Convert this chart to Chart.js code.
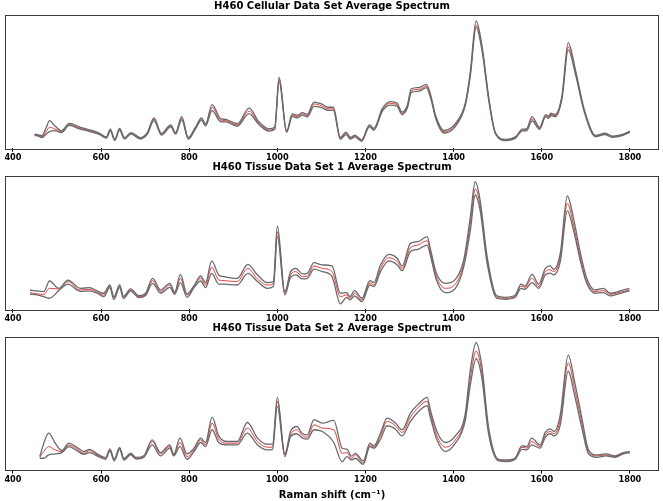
<!DOCTYPE html>
<html>
<head>
<meta charset="utf-8">
<script src="https://cdn.jsdelivr.net/npm/chart.js@4.4.0/dist/chart.umd.min.js"></script>
<style>
  html, body { margin: 0; padding: 0; background: #fff; }
  body { width: 663px; height: 501px; position: relative; overflow: hidden; }
  canvas { position: absolute; left: 0; }
</style>
</head>
<body>
<canvas id="c1" width="663" height="161" style="top:0px"></canvas>
<canvas id="c2" width="663" height="161" style="top:161px"></canvas>
<canvas id="c3" width="663" height="179" style="top:322px"></canvas>
<script>
// tick labels on the Raman shift axis
const xTicks = [400, 600, 800, 1000, 1200, 1400, 1600, 1800];

// H460 cellular
const shift1 = [449, 458, 466, 475, 483, 495, 510, 528, 553, 574, 597, 612, 621, 631, 642, 653, 668, 689, 705, 720,
  737, 758, 769, 783, 798, 814, 828, 837, 852, 871, 883, 909, 936, 958, 981, 994, 1004, 1021, 1034, 1045,
  1057, 1068, 1083, 1100, 1115, 1127, 1143, 1156, 1166, 1176, 1191, 1209, 1219, 1238, 1257, 1272, 1283, 1295, 1304, 1321,
  1338, 1348, 1359, 1378, 1404, 1427, 1438, 1451, 1465, 1480, 1495, 1518, 1541, 1556, 1565, 1578, 1595, 1609, 1615, 1621,
  1630, 1646, 1660, 1677, 1696, 1722, 1743, 1760, 1783, 1800];
const upper1 = [6.6, 6.0, 5.5, 11.5, 17.8, 13.5, 9.4, 15.6, 12.3, 10.2, 7.4, 4.3, 10.8, 2.4, 11.3, 3.8, 7.9, 3.8, 8.0, 20.0,
  7.2, 14.2, 8.0, 21.0, 3.9, 12.3, 20.0, 15.0, 31.0, 19.5, 18.8, 15.2, 28.0, 16.8, 11.0, 12.3, 53.5, 9.3, 23.4, 22.2,
  24.3, 23.0, 33.0, 31.5, 28.8, 28.8, 4.0, 8.3, 3.9, 5.8, 1.9, 14.2, 11.4, 27.6, 33.5, 32.0, 24.8, 30.5, 44.0, 45.0,
  47.6, 38.8, 22.2, 9.8, 15.3, 33.0, 58.5, 99.8, 78.0, 36.0, 7.8, 2.4, 4.6, 10.8, 10.9, 21.0, 12.3, 22.8, 21.4, 24.0,
  22.8, 38.8, 82.0, 58.5, 27.5, 5.7, 7.4, 5.1, 6.5, 9.2];
const mean1 = [6.0, 5.5, 4.6, 8.5, 12.3, 11.0, 8.7, 14.7, 11.5, 9.5, 6.8, 3.8, 10.1, 1.9, 10.6, 3.2, 7.3, 3.2, 7.3, 18.9,
  6.5, 13.4, 7.3, 19.7, 3.2, 11.5, 19.1, 14.2, 28.7, 18.3, 17.8, 14.2, 25.7, 15.6, 10.1, 11.5, 51.8, 8.7, 22.4, 21.1,
  23.3, 21.9, 31.5, 30.0, 27.5, 27.5, 3.2, 7.3, 3.2, 5.1, 1.3, 13.4, 10.6, 26.5, 32.0, 30.7, 23.8, 29.3, 42.5, 43.5,
  46.3, 37.5, 21.1, 8.7, 14.2, 32.0, 56.7, 96.5, 75.9, 34.8, 7.3, 1.9, 4.1, 10.1, 10.1, 19.1, 11.5, 21.9, 20.5, 23.0,
  21.9, 37.5, 78.6, 56.7, 26.5, 5.1, 6.8, 4.6, 6.0, 8.7];
const lower1 = [5.5, 5.0, 3.8, 6.5, 8.7, 9.5, 8.0, 13.8, 10.7, 8.8, 6.2, 3.3, 9.4, 1.4, 9.9, 2.6, 6.7, 2.6, 6.6, 17.8,
  5.8, 12.6, 6.6, 18.4, 2.5, 10.7, 18.2, 13.4, 26.0, 17.0, 16.8, 13.2, 23.5, 14.5, 9.2, 10.7, 50.0, 8.1, 21.4, 20.0,
  22.3, 20.8, 29.5, 28.5, 26.2, 26.2, 2.4, 6.3, 2.5, 4.4, 0.7, 12.6, 9.8, 25.4, 30.5, 29.4, 22.8, 28.1, 41.0, 42.0,
  45.0, 36.2, 20.0, 7.6, 13.1, 31.0, 55.0, 94.5, 74.0, 33.6, 6.8, 1.4, 3.6, 9.4, 9.3, 17.5, 10.7, 21.0, 19.6, 22.0,
  21.0, 36.2, 76.0, 55.0, 25.5, 4.5, 6.2, 4.1, 5.5, 8.2];

// H460 tissue set 1
const shift2 = [439, 455, 470, 483, 504, 525, 553, 574, 591, 606, 620, 629, 642, 651, 667, 686, 701, 717, 735, 756,
  767, 780, 795, 811, 826, 837, 851, 867, 879, 909, 933, 955, 977, 991, 1000, 1017, 1030, 1042, 1057, 1068,
  1083, 1102, 1124, 1143, 1157, 1165, 1175, 1192, 1210, 1219, 1234, 1253, 1272, 1283, 1302, 1319, 1340, 1347, 1361, 1381,
  1404, 1423, 1438, 1449, 1460, 1476, 1498, 1517, 1540, 1553, 1562, 1578, 1593, 1608, 1619, 1627, 1642, 1658, 1672, 1687,
  1702, 1721, 1740, 1755, 1778, 1799];
const upper2 = [10.9, 10.1, 9.5, 18.3, 12.3, 19.1, 12.3, 12.8, 10.1, 8.2, 15.0, 5.2, 15.0, 5.8, 11.8, 6.2, 8.2, 20.5, 10.9, 16.4,
  9.0, 23.8, 7.6, 14.5, 22.4, 17.0, 34.8, 23.3, 21.9, 20.5, 32.0, 23.3, 17.0, 17.8, 63.6, 9.5, 26.0, 28.7, 24.1, 24.6,
  33.4, 31.5, 30.7, 8.2, 8.7, 5.5, 10.4, 4.1, 18.6, 17.0, 31.5, 40.3, 37.0, 30.7, 49.3, 50.7, 54.8, 45.2, 24.6, 16.4,
  19.7, 35.6, 71.3, 100, 85.0, 38.3, 6.0, 4.9, 6.8, 15.8, 14.2, 23.8, 15.8, 28.7, 30.7, 27.9, 41.1, 88.3, 69.9, 42.5,
  20.5, 10.9, 12.3, 8.2, 10.1, 12.3];
const mean2 = [8.7, 7.6, 7.3, 12.3, 11.7, 17.8, 10.9, 11.4, 9.0, 6.8, 14.2, 4.1, 14.2, 4.9, 10.9, 5.4, 7.3, 18.6, 9.5, 15.0,
  8.2, 20.5, 6.8, 13.7, 20.5, 15.0, 29.6, 19.1, 18.6, 17.8, 28.7, 20.0, 15.0, 16.0, 58.9, 8.2, 23.3, 26.0, 21.9, 22.4,
  30.7, 28.7, 26.0, 5.4, 6.8, 4.1, 8.2, 2.7, 16.9, 15.0, 28.7, 37.5, 34.2, 28.7, 45.7, 47.9, 51.5, 42.5, 21.9, 12.3,
  15.8, 32.9, 65.8, 94.0, 80.9, 35.6, 4.9, 4.1, 6.0, 14.2, 13.1, 20.5, 13.7, 26.0, 27.5, 26.0, 37.8, 82.2, 64.4, 38.3,
  17.8, 9.5, 10.4, 7.3, 9.0, 10.9];
const lower2 = [7.6, 6.8, 5.4, 4.1, 10.4, 15.8, 9.8, 10.1, 8.2, 5.4, 12.8, 3.0, 12.8, 4.0, 10.0, 4.6, 6.4, 16.4, 8.2, 13.1,
  7.4, 17.0, 4.9, 12.8, 18.3, 12.8, 24.6, 15.8, 15.8, 15.0, 24.6, 17.8, 12.3, 13.7, 54.8, 6.8, 21.3, 23.3, 20.0, 20.5,
  28.0, 26.0, 21.9, -0.6, 4.9, 2.8, 6.0, 1.3, 15.0, 13.7, 26.0, 34.8, 31.5, 26.8, 42.5, 44.4, 47.9, 39.7, 19.1, 8.7,
  12.3, 30.1, 60.3, 89.1, 76.7, 32.9, 4.1, 3.2, 4.9, 12.3, 11.5, 17.0, 12.3, 23.3, 24.8, 23.3, 34.2, 76.2, 60.3, 35.6,
  16.4, 8.2, 8.7, 6.0, 8.2, 10.1];

// H460 tissue set 2
const shift3 = [461, 470, 481, 496, 511, 527, 545, 561, 574, 591, 610, 620, 630, 642, 652, 667, 680, 697, 716, 735,
  756, 765, 779, 795, 811, 826, 837, 852, 867, 886, 909, 932, 955, 977, 989, 1000, 1017, 1030, 1044, 1057,
  1068, 1083, 1102, 1128, 1147, 1158, 1168, 1177, 1195, 1210, 1219, 1234, 1249, 1268, 1283, 1302, 1321, 1340, 1347, 1362,
  1381, 1404, 1426, 1438, 1451, 1464, 1479, 1502, 1521, 1540, 1555, 1566, 1577, 1596, 1608, 1619, 1628, 1642, 1660, 1675,
  1691, 1706, 1725, 1746, 1766, 1785, 1800];
const upper3 = [6.1, 17.1, 25.4, 17.1, 11.0, 17.1, 13.8, 10.2, 12.1, 8.3, 5.2, 12.3, 4.0, 13.6, 4.4, 8.9, 5.3, 6.7, 19.9, 9.4,
  15.7, 8.0, 21.3, 8.3, 13.0, 21.3, 17.7, 38.7, 23.2, 18.5, 18.5, 34.2, 21.3, 16.3, 16.3, 55.0, 8.3, 26.8, 30.9, 24.9,
  24.0, 36.5, 33.7, 35.9, 13.0, 12.1, 6.5, 8.8, 2.5, 17.1, 14.9, 25.4, 37.8, 33.7, 28.2, 42.0, 49.7, 55.0, 44.7, 26.8,
  17.7, 23.2, 40.6, 77.9, 100, 80.7, 30.9, 3.8, 3.3, 5.2, 14.9, 14.3, 21.3, 15.7, 26.0, 29.0, 26.8, 40.6, 89.8, 66.9,
  37.8, 11.6, 7.4, 8.3, 6.6, 9.4, 10.2];
const mean3 = [5.5, 10.2, 14.3, 11.6, 10.2, 15.7, 12.4, 8.8, 11.0, 7.4, 4.7, 11.6, 3.3, 13.0, 3.8, 8.3, 4.7, 6.1, 18.5, 8.3,
  14.3, 7.4, 17.7, 6.1, 11.6, 19.9, 15.7, 33.7, 20.4, 17.1, 17.1, 29.6, 18.5, 13.8, 13.8, 51.7, 7.4, 24.0, 28.2, 23.2,
  22.1, 32.3, 29.6, 28.2, 8.8, 9.4, 4.7, 7.4, 1.1, 15.7, 13.8, 23.2, 35.1, 31.5, 26.0, 38.7, 47.0, 51.7, 42.0, 23.2,
  13.8, 19.9, 37.8, 71.0, 93.1, 75.7, 28.7, 3.3, 2.7, 4.7, 13.8, 13.0, 18.5, 14.3, 24.0, 26.8, 24.9, 36.5, 83.4, 61.3,
  33.7, 9.4, 6.6, 7.4, 6.1, 8.8, 9.7];
const lower3 = [4.7, 4.7, 7.4, 8.3, 9.4, 14.3, 11.0, 8.0, 9.4, 6.6, 3.8, 10.5, 2.6, 12.0, 3.2, 7.5, 4.0, 5.4, 15.7, 6.6,
  13.0, 6.6, 14.3, 3.8, 10.2, 17.7, 14.3, 28.2, 17.7, 15.7, 15.7, 25.4, 15.7, 11.6, 12.1, 47.5, 6.1, 22.6, 24.9, 21.3,
  20.4, 28.2, 26.8, 17.7, 1.9, 6.1, 3.3, 4.7, -0.3, 14.3, 13.0, 20.4, 31.5, 28.7, 23.2, 35.1, 43.4, 48.1, 38.7, 19.9,
  10.2, 17.1, 35.1, 65.5, 86.8, 71.0, 25.4, 2.5, 1.9, 3.8, 12.1, 11.6, 15.7, 13.0, 22.1, 24.9, 23.2, 32.3, 76.5, 55.8,
  29.6, 8.3, 5.5, 6.6, 5.5, 8.3, 9.4];

// draws the axes frame all round, like matplotlib spines
const frame = {
  id: 'frame',
  afterDraw(chart) {
    const a = chart.chartArea, ctx = chart.ctx;
    ctx.save();
    ctx.strokeStyle = '#3a3a3a';
    ctx.lineWidth = 1;
    ctx.strokeRect(Math.round(a.left) + 0.5, Math.round(a.top) + 0.5,
      Math.round(a.right - a.left) - 1, Math.round(a.bottom - a.top));
    ctx.restore();
  }
};

function pts(xs, ys) {
  return xs.map((x, i) => ({ x: x, y: ys[i] }));
}

function spectrum(id, title, xs, up, mid, lo, xTitle) {
  const grey = '#6a6a6a';
  const line = (data, color, w) => ({
    data: pts(xs, data),
    borderColor: color,
    borderWidth: w,
    pointRadius: 0,
    cubicInterpolationMode: 'monotone',
    fill: false
  });
  return new Chart(document.getElementById(id), {
    type: 'line',
    data: {
      datasets: [
        line(up, grey, 1.3),
        line(lo, grey, 1.3),
        line(mid, 'rgba(225, 35, 35, 0.85)', 1)
      ]
    },
    options: {
      responsive: false,
      animation: false,
      events: [],
      layout: { padding: { left: 5, right: 4, top: 0, bottom: 0 } },
      plugins: {
        legend: { display: false },
        tooltip: { enabled: false },
        title: {
          display: true,
          text: title,
          color: '#000',
          font: { family: 'DejaVu Sans', size: 10, weight: 'bold' },
          padding: { top: 0, bottom: 2.7 }
        }
      },
      scales: {
        x: {
          type: 'linear',
          min: 382,
          max: 1866,
          afterFit: s => { s.height = xTitle ? 31 : 12.7; },
          afterBuildTicks: s => { s.ticks = xTicks.map(v => ({ value: v })); },
          grid: { drawOnChartArea: false, drawTicks: true, tickLength: 3.5, color: '#000' },
          border: { display: false },
          ticks: {
            color: '#000',
            padding: 1.5,
            maxRotation: 0,
            callback: v => String(v),
            font: { family: 'DejaVu Sans', size: 8.2, weight: 'bold' }
          },
          title: {
            display: !!xTitle,
            text: xTitle || '',
            color: '#000',
            font: { family: 'DejaVu Sans', size: 10, weight: 'bold' },
            padding: { top: 2, bottom: 0 }
          }
        },
        y: {
          display: false,
          min: -5,
          max: 105
        }
      }
    },
    plugins: [frame]
  });
}

spectrum('c1', 'H460 Cellular Data Set Average Spectrum', shift1, upper1, mean1, lower1);
spectrum('c2', 'H460 Tissue Data Set 1 Average Spectrum', shift2, upper2, mean2, lower2);
spectrum('c3', 'H460 Tissue Data Set 2 Average Spectrum', shift3, upper3, mean3, lower3, 'Raman shift (cm\u207B\u00B9)');
</script>
</body>
</html>
